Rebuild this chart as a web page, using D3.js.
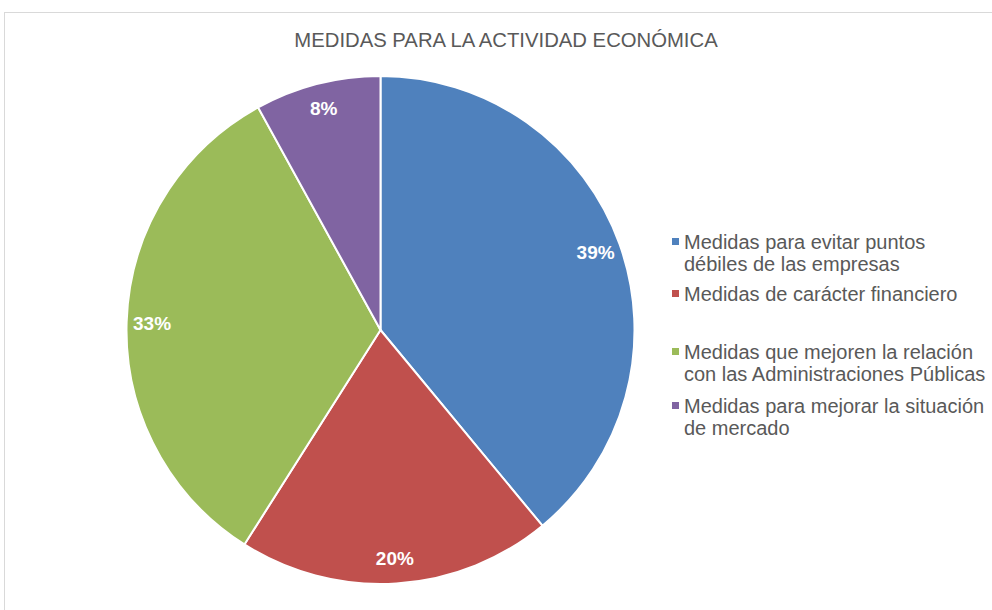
<!DOCTYPE html>
<html>
<head>
<meta charset="utf-8">
<script src="https://cdn.jsdelivr.net/npm/d3@7"></script>
<style>
  body { margin: 0; background: #fff; }
  svg { display: block; }
</style>
</head>
<body>
<div id="chart"></div>
<script>
const width = 992;
const height = 610;

const title = "MEDIDAS PARA LA ACTIVIDAD ECONÓMICA";
const categories = [
    "Medidas para evitar puntos débiles de las empresas",
    "Medidas de carácter financiero",
    "Medidas que mejoren la relación con las Administraciones Públicas",
    "Medidas para mejorar la situación de mercado"
];
const legendLines = [
    ["Medidas para evitar puntos", "débiles de las empresas"],
    ["Medidas de carácter financiero"],
    ["Medidas que mejoren la relación", "con las Administraciones Públicas"],
    ["Medidas para mejorar la situación", "de mercado"]
];
const values = [39, 20, 33, 8];
const colors = ["#4F81BD", "#C0504D", "#9BBB59", "#8064A2"];

const svg = d3.select("#chart").append("svg")
    .attr("width", width)
    .attr("height", height);

// chart frame
svg.append("rect")
    .attr("x", 4.5)
    .attr("y", 12.5)
    .attr("width", 1000)
    .attr("height", 700)
    .style("fill", "#fff")
    .style("stroke", "#d9d9d9")
    .style("stroke-width", "1px");

svg.append("text")
    .attr("x", 506)
    .attr("y", 47)
    .attr("text-anchor", "middle")
    .style("font-family", "'Liberation Sans', Arial, sans-serif")
    .style("font-size", "20.3px")
    .style("fill", "#595959")
    .text(title);

const cx = 380.5, cy = 330, radius = 254;

const color = d3.scaleOrdinal().domain(categories).range(colors);

const pie = d3.pie().sort(null).value(d => d.value);
const arcs = pie(categories.map((c, i) => ({name: c, value: values[i]})));

const arc = d3.arc().innerRadius(0).outerRadius(radius);
const labelArc = d3.arc().innerRadius(radius * 0.9).outerRadius(radius * 0.9);

const g = svg.append("g").attr("transform", `translate(${cx},${cy})`);

g.selectAll("path")
  .data(arcs)
  .join("path")
    .attr("d", arc)
    .style("fill", d => color(d.data.name))
    .style("stroke", "#fff")
    .style("stroke-width", "2px");

const total = d3.sum(values);
g.selectAll("text")
  .data(arcs)
  .join("text")
    .attr("transform", d => `translate(${labelArc.centroid(d)})`)
    .attr("text-anchor", "middle")
    .attr("dy", "0.36em")
    .style("font-family", "'Liberation Sans', Arial, sans-serif")
    .style("font-size", "19px")
    .style("font-weight", "bold")
    .style("fill", "#fff")
    .text(d => `${Math.round(d.data.value / total * 100)}%`);

// legend
const legendY = [249, 301, 359, 413];
const legend = svg.append("g");
categories.forEach((c, i) => {
    legend.append("rect")
        .attr("x", 672)
        .attr("y", legendY[i] - 11)
        .attr("width", 7)
        .attr("height", 7)
        .style("fill", color(c));
    const t = legend.append("text")
        .attr("x", 684)
        .attr("y", legendY[i])
        .style("font-family", "'Liberation Sans', Arial, sans-serif")
        .style("font-size", "20px")
        .style("fill", "#595959");
    legendLines[i].forEach((line, j) => {
        t.append("tspan")
            .attr("x", 684)
            .attr("dy", j === 0 ? 0 : 22)
            .text(line);
    });
});
</script>
</body>
</html>
